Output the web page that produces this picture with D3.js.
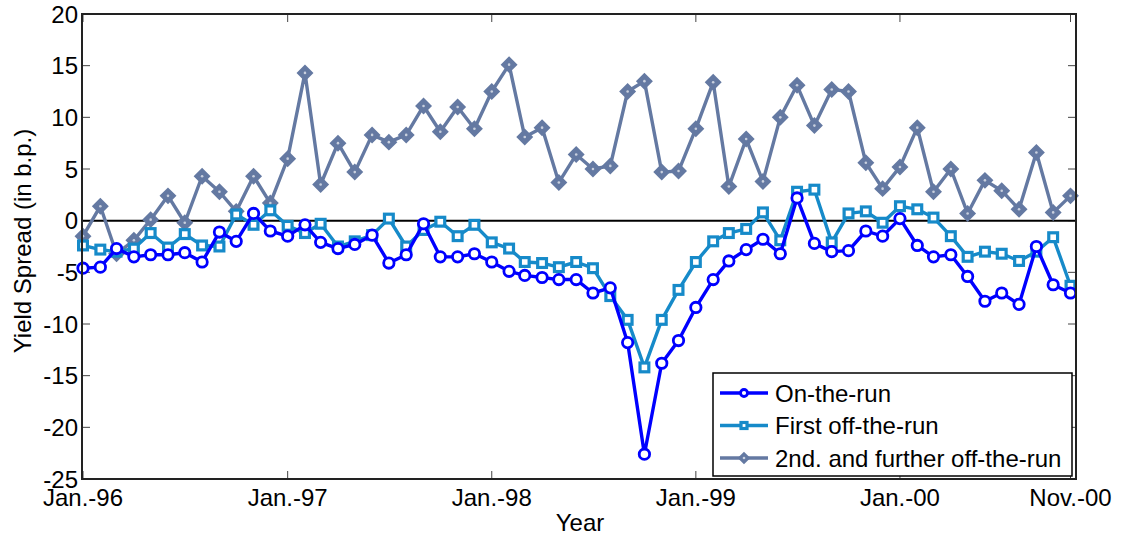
<!DOCTYPE html>
<html>
<head>
<meta charset="utf-8">
<script src="https://cdn.jsdelivr.net/npm/d3@7"></script>
<style>
  html, body { margin: 0; padding: 0; background: #fff; }
  svg { display: block; font-family: "Liberation Sans", Arial, sans-serif; }
</style>
</head>
<body>
<svg id="chart" width="1123" height="540"></svg>
<script>
// Monthly observations, Jan 1996 through Nov 2000
const months = d3.timeMonths(new Date(1996, 0, 1), new Date(2000, 11, 1));

const onTheRun = [
  -4.6, -4.5, -2.7, -3.5, -3.3, -3.3, -3.1, -4.0, -1.1, -2.0, 0.7, -1.0,
  -1.5, -0.4, -2.1, -2.7, -2.3, -1.4, -4.1, -3.3, -0.3, -3.5, -3.5, -3.2,
  -4.0, -4.9, -5.3, -5.5, -5.7, -5.7, -7.0, -6.5, -11.8, -22.6, -13.8, -11.6,
  -8.4, -5.7, -3.9, -2.8, -1.8, -3.2, 2.2, -2.2, -3.0, -2.9, -1.0, -1.5,
  0.2, -2.4, -3.5, -3.3, -5.4, -7.8, -7.0, -8.1, -2.5, -6.2, -7.0
];

const firstOffTheRun = [
  -2.4, -2.8, -3.0, -2.7, -1.2, -2.6, -1.3, -2.4, -2.5, 0.6, -0.4, 1.0,
  -0.5, -1.2, -0.3, -2.5, -2.0, -1.4, 0.2, -2.5, -0.9, -0.1, -1.5, -0.4,
  -2.1, -2.7, -4.0, -4.1, -4.5, -4.0, -4.6, -7.3, -9.6, -14.2, -9.6, -6.7,
  -4.0, -2.0, -1.2, -0.8, 0.8, -1.9, 2.8, 3.0, -2.1, 0.7, 0.9, -0.2,
  1.4, 1.1, 0.3, -1.5, -3.5, -3.0, -3.2, -3.9, -3.0, -1.6, -6.3
];

const furtherOffTheRun = [
  -1.5, 1.4, -3.2, -1.9, 0.1, 2.4, -0.2, 4.3, 2.8, 0.9, 4.3, 1.7,
  6.0, 14.3, 3.5, 7.5, 4.7, 8.3, 7.6, 8.3, 11.1, 8.6, 11.0, 8.9,
  12.5, 15.1, 8.1, 9.0, 3.7, 6.4, 5.0, 5.3, 12.5, 13.5, 4.7, 4.8,
  8.9, 13.4, 3.3, 7.9, 3.8, 10.0, 13.1, 9.2, 12.7, 12.5, 5.6, 3.1,
  5.2, 9.0, 2.8, 5.0, 0.7, 3.9, 2.9, 1.1, 6.6, 0.8, 2.4
];

const seriesNames = ["On-the-run", "First off-the-run", "2nd. and further off-the-run"];
const seriesColors = ["#0000ff", "#168ac9", "#6479a2"];
const seriesMarkers = ["circle", "square", "diamond"];

const xTickDates = [
  new Date(1996, 0, 1), new Date(1997, 0, 1), new Date(1998, 0, 1),
  new Date(1999, 0, 1), new Date(2000, 0, 1), new Date(2000, 10, 1)
];
const xTickLabels = ["Jan.-96", "Jan.-97", "Jan.-98", "Jan.-99", "Jan.-00", "Nov.-00"];
const yTicks = [20, 15, 10, 5, 0, -5, -10, -15, -20, -25];

const svg = d3.select("#chart");
const fontSize = 24;

const frame = { left: 82, right: 1076, top: 14, bottom: 479 };

const x = d3.scaleTime()
  .domain([new Date(1996, 0, 1), new Date(2000, 10, 1)])
  .range([83, 1070.5]);

const y = d3.scaleLinear()
  .domain([-25, 20])
  .range([frame.bottom, frame.top]);

// Tick marks on all four sides (pointing inward)
const tickLen = 8;
const tickColor = "#444";
const ticks = svg.append("g");

xTickDates.forEach(d => {
  const px = x(d);
  ticks.append("line").attr("x1", px).attr("x2", px)
    .attr("y1", frame.bottom).attr("y2", frame.bottom - tickLen)
    .attr("stroke", tickColor).attr("stroke-width", 1);
  ticks.append("line").attr("x1", px).attr("x2", px)
    .attr("y1", frame.top).attr("y2", frame.top + tickLen)
    .attr("stroke", tickColor).attr("stroke-width", 1);
});
yTicks.forEach(v => {
  const py = y(v);
  ticks.append("line").attr("x1", frame.left).attr("x2", frame.left + tickLen)
    .attr("y1", py).attr("y2", py)
    .attr("stroke", tickColor).attr("stroke-width", 1);
  ticks.append("line").attr("x1", frame.right).attr("x2", frame.right - tickLen)
    .attr("y1", py).attr("y2", py)
    .attr("stroke", tickColor).attr("stroke-width", 1);
});

// Zero reference line
svg.append("line")
  .attr("x1", frame.left).attr("x2", frame.right)
  .attr("y1", y(0)).attr("y2", y(0))
  .attr("stroke", "#000").attr("stroke-width", 2);

// Marker shapes
function drawMarker(g, type, cx, cy, color, size) {
  if (type === "circle") {
    g.append("circle").attr("cx", cx).attr("cy", cy).attr("r", size)
      .attr("fill", "#fff").attr("stroke", color).attr("stroke-width", 2.8);
  } else if (type === "square") {
    const s = size;
    g.append("rect").attr("x", cx - s).attr("y", cy - s)
      .attr("width", 2 * s).attr("height", 2 * s)
      .attr("fill", "#fff").attr("stroke", color).attr("stroke-width", 3.2);
  } else {
    const s = size * 1.25;
    g.append("path")
      .attr("d", `M${cx},${cy - s}L${cx + s},${cy}L${cx},${cy + s}L${cx - s},${cy}Z`)
      .attr("fill", color).attr("stroke", color).attr("stroke-width", 2.8)
      .attr("stroke-linejoin", "miter");
    g.append("circle").attr("cx", cx).attr("cy", cy).attr("r", 1.3)
      .attr("fill", "#c9d0de");
  }
}

const allSeries = [onTheRun, firstOffTheRun, furtherOffTheRun];
const line = d3.line().x((d, i) => x(months[i])).y(d => y(d));

// Draw back-to-front: further off-the-run first, on-the-run on top
[2, 1, 0].forEach(k => {
  const g = svg.append("g");
  g.append("path")
    .datum(allSeries[k])
    .attr("d", line)
    .attr("fill", "none")
    .attr("stroke", seriesColors[k])
    .attr("stroke-width", 3.4)
    .attr("stroke-linejoin", "round");
  allSeries[k].forEach((v, i) => {
    drawMarker(g, seriesMarkers[k], x(months[i]), y(v), seriesColors[k], k === 1 ? 4.4 : 5.2);
  });
});

// Axes box
svg.append("rect")
  .attr("x", frame.left).attr("y", frame.top)
  .attr("width", frame.right - frame.left).attr("height", frame.bottom - frame.top)
  .attr("fill", "none").attr("stroke", "#222").attr("stroke-width", 2);

// Tick labels
svg.append("g").selectAll("text")
  .data(yTicks).join("text")
  .attr("x", frame.left - 4).attr("y", d => y(d) + 8.5)
  .attr("text-anchor", "end")
  .attr("font-size", fontSize).attr("fill", "#000")
  .text(d => d);

svg.append("g").selectAll("text")
  .data(xTickDates).join("text")
  .attr("x", d => x(d)).attr("y", frame.bottom + 27)
  .attr("text-anchor", "middle")
  .attr("font-size", fontSize).attr("fill", "#000")
  .text((d, i) => xTickLabels[i]);

// Axis titles
svg.append("text")
  .attr("x", (frame.left + frame.right) / 2 + 1).attr("y", 531)
  .attr("text-anchor", "middle").attr("font-size", fontSize)
  .text("Year");

svg.append("text")
  .attr("transform", `translate(31, 241) rotate(-90)`)
  .attr("text-anchor", "middle").attr("font-size", fontSize)
  .text("Yield Spread (in b.p.)");

// Legend
const legend = svg.append("g");
const lgX = 713, lgY = 373, lgW = 359, lgH = 103;
legend.append("rect")
  .attr("x", lgX).attr("y", lgY).attr("width", lgW).attr("height", lgH)
  .attr("fill", "#fff").attr("stroke", "#000").attr("stroke-width", 1.5);
seriesNames.forEach((name, k) => {
  const cy = lgY + 20 + k * 32.5;
  legend.append("line")
    .attr("x1", lgX + 7).attr("x2", lgX + 55)
    .attr("y1", cy).attr("y2", cy)
    .attr("stroke", seriesColors[k]).attr("stroke-width", 3.4);
  drawMarker(legend, seriesMarkers[k], lgX + 31, cy, seriesColors[k], k === 1 ? 3 : 3.5);
  legend.append("text")
    .attr("x", lgX + 62).attr("y", cy + 8.5)
    .attr("font-size", fontSize).attr("fill", "#000")
    .text(name);
});
</script>
</body>
</html>
